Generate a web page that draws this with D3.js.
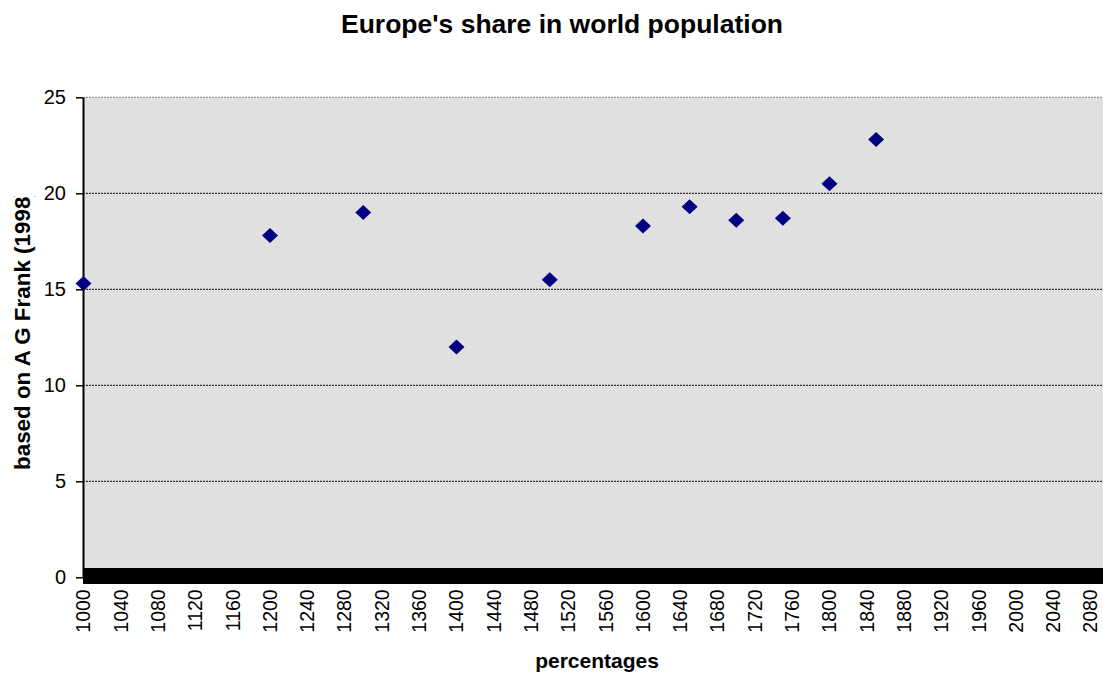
<!DOCTYPE html>
<html>
<head>
<meta charset="utf-8">
<script src="https://cdn.jsdelivr.net/npm/d3@7"></script>
<style>
  html, body { margin: 0; padding: 0; background: #fff; }
  svg { display: block; font-family: Arial, "Liberation Sans", sans-serif; }
</style>
</head>
<body>
<svg id="chart" width="1103" height="675"></svg>
<script>
// ---- data ----
const years  = [1000, 1200, 1300, 1400, 1500, 1600, 1650, 1700, 1750, 1800, 1850];
const shares = [15.3, 17.8, 19.0, 12.0, 15.5, 18.3, 19.3, 18.6, 18.7, 20.5, 22.8];
const yTicks = [0, 5, 10, 15, 20, 25];
const xTickLabels = d3.range(1000, 2081, 40);
const xMinorTicks = d3.range(1000, 2101, 1);
const titleText = "Europe's share in world population";
const xTitleText = "percentages";
const yTitleText = "based on A G Frank (1998)";

(function () {
// ---- layout ----
const svg = d3.select("#chart");
const plotLeft = 83, plotTop = 97.3, plotBottom = 577.3;
const x = d3.scaleLinear().domain([1000, 2100]).range([83.5, 83.5 + 1100 * 0.9325]);
const y = d3.scaleLinear().domain([0, 25]).range([plotBottom, plotTop]);

// plot background
svg.append("rect")
  .attr("x", plotLeft).attr("y", plotTop)
  .attr("width", 1103 - plotLeft).attr("height", plotBottom - plotTop)
  .attr("fill", "#e0e0e0");

// gridlines
svg.append("g").selectAll("line")
  .data(yTicks.filter(d => d > 0))
  .join("line")
  .attr("x1", plotLeft).attr("x2", 1103)
  .attr("y1", d => y(d)).attr("y2", d => y(d))
  .attr("stroke", d => d === 25 ? "#808080" : "#000")
  .attr("stroke-width", 1)
  .attr("stroke-dasharray", "2,1");

// y axis
const yAxis = d3.axisLeft(y).tickValues(yTicks).tickSizeInner(7).tickSizeOuter(0).tickPadding(10);
const gy = svg.append("g").attr("transform", `translate(${plotLeft},0)`).call(yAxis);
gy.select(".domain").attr("stroke", "#000").attr("stroke-width", 2);
gy.selectAll(".tick line").attr("stroke", "#000").attr("stroke-width", 1.5);
gy.selectAll(".tick text").attr("font-size", 20).attr("fill", "#000")
  .attr("font-family", "Arial, 'Liberation Sans', sans-serif");

// x axis: dense cross ticks
const gxTicks = svg.append("g").attr("shape-rendering", "crispEdges");
gxTicks.selectAll("line")
  .data(xMinorTicks)
  .join("line")
  .attr("x1", d => x(d)).attr("x2", d => x(d))
  .attr("y1", plotBottom - 9).attr("y2", plotBottom + 7)
  .attr("stroke", "#000").attr("stroke-width", 1);
svg.append("line")
  .attr("x1", plotLeft).attr("x2", 1103)
  .attr("y1", plotBottom).attr("y2", plotBottom)
  .attr("stroke", "#000").attr("stroke-width", 2);

// x tick labels (rotated)
svg.append("g").selectAll("text")
  .data(xTickLabels)
  .join("text")
  .attr("transform", d => `translate(${x(d)},${plotBottom + 12}) rotate(-90)`)
  .attr("text-anchor", "end")
  .attr("dy", "0.35em")
  .attr("font-size", 19.5)
  .attr("fill", "#000")
  .text(d => d);

// points
const diamond = "M0,-7.5L8,0L0,7.5L-8,0Z";
svg.append("g").selectAll("path")
  .data(years.map((yr, i) => ({ yr, v: shares[i] })))
  .join("path")
  .attr("d", diamond)
  .attr("transform", d => `translate(${x(d.yr)},${y(d.v)})`)
  .attr("fill", "#000080");

// title
svg.append("text")
  .attr("x", 562).attr("y", 33)
  .attr("text-anchor", "middle")
  .attr("font-size", 26).attr("font-weight", "bold")
  .attr("textLength", 442).attr("lengthAdjust", "spacingAndGlyphs")
  .text(titleText);

// x title
svg.append("text")
  .attr("x", 597).attr("y", 668)
  .attr("text-anchor", "middle")
  .attr("font-size", 21).attr("font-weight", "bold")
  .text(xTitleText);

// y title (clipped at top)
svg.append("clipPath").attr("id", "yclip")
  .append("rect").attr("x", 0).attr("y", 196).attr("width", 60).attr("height", 400);
svg.append("g").attr("clip-path", "url(#yclip)")
  .append("text")
  .attr("transform", "translate(29.5,470) rotate(-90)")
  .attr("text-anchor", "start")
  .attr("font-size", 22.4).attr("font-weight", "bold")
  .text(yTitleText);
})();
</script>
</body>
</html>
